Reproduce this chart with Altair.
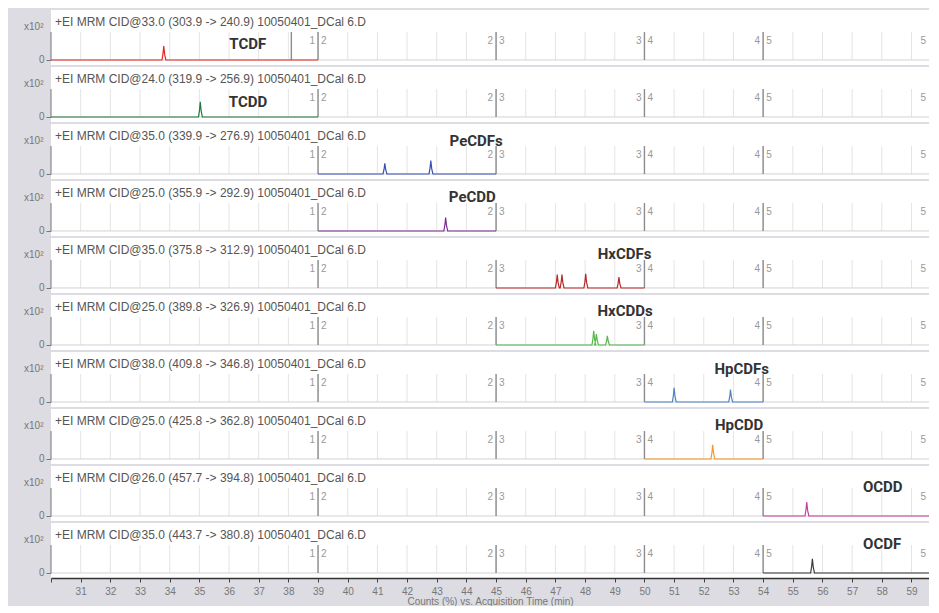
import altair as alt
import pandas as pd

# ---------------- data ----------------
compounds = ["TCDF", "TCDD", "PeCDFs", "PeCDD", "HxCDFs", "HxCDDs",
             "HpCDFs", "HpCDD", "OCDD", "OCDF"]
headers = [
    "+EI MRM CID@33.0 (303.9 -> 240.9) 10050401_DCal 6.D",
    "+EI MRM CID@24.0 (319.9 -> 256.9) 10050401_DCal 6.D",
    "+EI MRM CID@35.0 (339.9 -> 276.9) 10050401_DCal 6.D",
    "+EI MRM CID@25.0 (355.9 -> 292.9) 10050401_DCal 6.D",
    "+EI MRM CID@35.0 (375.8 -> 312.9) 10050401_DCal 6.D",
    "+EI MRM CID@25.0 (389.8 -> 326.9) 10050401_DCal 6.D",
    "+EI MRM CID@38.0 (409.8 -> 346.8) 10050401_DCal 6.D",
    "+EI MRM CID@25.0 (425.8 -> 362.8) 10050401_DCal 6.D",
    "+EI MRM CID@26.0 (457.7 -> 394.8) 10050401_DCal 6.D",
    "+EI MRM CID@35.0 (443.7 -> 380.8) 10050401_DCal 6.D",
]
colors = ["#e8231c", "#1e7b3c", "#3a4fb3", "#7b2f8f", "#b52a2a",
          "#55b84a", "#4f83c4", "#f7982e", "#c23f9f", "#3a3a3a"]
seg_start = [30, 30, 39, 39, 45, 45, 50, 50, 54, 54]
seg_end = [39, 39, 45, 45, 50, 50, 54, 54, 60, 60]
peak_times = [[33.8], [35.03], [41.25, 42.8], [43.3],
              [47.06, 47.22, 48.02, 49.14], [48.29, 48.38, 48.75],
              [51.0, 52.9], [52.3], [55.47], [55.66]]
peak_heights = [[0.5], [0.54], [0.38, 0.48], [0.48],
                [0.48, 0.48, 0.51, 0.39], [0.51, 0.39, 0.33],
                [0.51, 0.44], [0.51], [0.5], [0.51]]
label_x = [36.63, 36.64, 44.33, 44.2, 49.33, 49.35, 53.28, 53.19, 58.03, 58.01]
label_y = [0.56, 0.54, 1.19, 1.21, 1.2, 1.22, 1.17, 1.2, 1.04, 1.05]
minutes = list(range(30, 60))
boundaries = [39, 45, 50, 54]
left_marks = ["1", "2", "3", "4"]
right_marks = ["2", "3", "4", "5"]
edge_mark = "5"
extra_rules = [[38.1], [], [], [], [], [], [], [], [], []]
x_domain = [30, 59.59]
y_domain = [-0.18, 1.79]
header_y = 1.36
mark_y = 0.68
x_title = "Counts (%) vs. Acquisition Time (min)"
y_title = "x10²"

# ---------------- styling ----------------
FONT = "Liberation Sans"
W, H = 878, 55
xs = alt.Scale(domain=x_domain, nice=False, zero=False)
ys = alt.Scale(domain=y_domain, nice=False, zero=False)

y_axis = alt.Axis(values=[0], domain=False, grid=False, tickSize=5,
                  tickColor="#777", labelColor="#777", labelFontSize=10,
                  labelFont=FONT, labelPadding=2, title=y_title, titleAngle=0,
                  titleAlign="right", titleBaseline="middle", titleX=-8,
                  titleY=16, titleFontSize=10, titleFontWeight="normal",
                  titleColor="#777", titleFont=FONT)

x_axis_bottom = alt.Axis(values=minutes,
                         labelExpr="datum.value == 30 ? '' : datum.label",
                         tickSize=4, tickColor="#444", domainColor="#333",
                         domainWidth=1.5, labelColor="#777", labelFontSize=10,
                         labelFont=FONT, labelPadding=4, grid=False,
                         title=x_title, titleFontSize=10,
                         titleFontWeight="normal", titleColor="#777",
                         titleFont=FONT, titlePadding=0)


def panel(i, last):
    xa = x_axis_bottom if last else None
    X = lambda f: alt.X(f, scale=xs, axis=xa, title=x_title)
    Y = lambda f: alt.Y(f, scale=ys, axis=y_axis, title=y_title)

    grid_df = pd.DataFrame({"t": minutes[1:], "y": 0, "hi": 1})
    base_df = pd.DataFrame({"t": [x_domain[0]], "t2": [x_domain[1]], "y": [0]})
    yline_df = pd.DataFrame({"t": [x_domain[0]], "y": [0], "hi": [1]})
    bnd = boundaries + extra_rules[i]
    bnd_df = pd.DataFrame({"t": bnd, "y": 0, "hi": 1})
    mark_df = pd.DataFrame({"t": boundaries + [x_domain[1]],
                            "l": left_marks + [edge_mark],
                            "r": right_marks + [""], "y": mark_y})
    pts = [(seg_start[i], 0.0)]
    for t, h in zip(peak_times[i], peak_heights[i]):
        pts += [(t - 0.06, 0.0), (t - 0.025, 0.45 * h), (t, h),
                (t + 0.03, 0.4 * h), (t + 0.07, 0.0)]
    pts.append((seg_end[i], 0.0))
    trace_df = pd.DataFrame({"t": [p[0] for p in pts],
                             "y": [p[1] for p in pts],
                             "idx": list(range(len(pts)))})
    head_df = pd.DataFrame({"t": [x_domain[0]], "y": [header_y],
                            "s": [headers[i]]})
    lab_df = pd.DataFrame({"t": [label_x[i]], "y": [label_y[i]],
                           "s": [compounds[i]]})

    grid = alt.Chart(grid_df).mark_rule(color="#e4e4e4", strokeWidth=1).encode(
        x=X("t:Q"), y=Y("y:Q"), y2="hi:Q")
    base = alt.Chart(base_df).mark_rule(color="#d2d2d2", strokeWidth=1,
                                        clip=True).encode(
        x=X("t:Q"), x2="t2:Q", y=Y("y:Q"))
    yline = alt.Chart(yline_df).mark_rule(color="#777", strokeWidth=1).encode(
        x=X("t:Q"), y=Y("y:Q"), y2="hi:Q")
    brules = alt.Chart(bnd_df).mark_rule(color="#8c8c8c", strokeWidth=1.4,
                                         clip=True).encode(
        x=X("t:Q"), y=Y("y:Q"), y2="hi:Q")
    ltxt = alt.Chart(mark_df).mark_text(align="right", baseline="middle",
                                        dx=-3, fontSize=10, font=FONT,
                                        color="#999").encode(
        x=X("t:Q"), y=Y("y:Q"), text="l:N")
    rtxt = alt.Chart(mark_df).mark_text(align="left", baseline="middle",
                                        dx=3, fontSize=10, font=FONT,
                                        color="#999", clip=True).encode(
        x=X("t:Q"), y=Y("y:Q"), text="r:N")
    trace = alt.Chart(trace_df).mark_line(color=colors[i], strokeWidth=1.2,
                                          clip=True).encode(
        x=X("t:Q"), y=Y("y:Q"), order="idx:Q")
    head = alt.Chart(head_df).mark_text(align="left", baseline="middle",
                                        dx=4, fontSize=12, font=FONT,
                                        color="#555").encode(
        x=X("t:Q"), y=Y("y:Q"), text="s:N")
    lab = alt.Chart(lab_df).mark_text(align="center", baseline="middle",
                                      fontSize=15, font="Roboto",
                                      fontWeight="bold", color="#333").encode(
        x=X("t:Q"), y=Y("y:Q"), text="s:N")

    return alt.layer(grid, base, yline, brules, ltxt, rtxt, trace, head,
                     lab).properties(width=W, height=H)


panels = [panel(i, i == len(compounds) - 1) for i in range(len(compounds))]

chart = alt.vconcat(*panels, spacing=2).properties(
    background="#dcdce2",
    padding={"left": 15, "top": 2, "right": 0, "bottom": 0},
).configure_view(fill="white", strokeWidth=0)

chart.save("out.html", embed_options={"renderer": "svg", "actions": False})
